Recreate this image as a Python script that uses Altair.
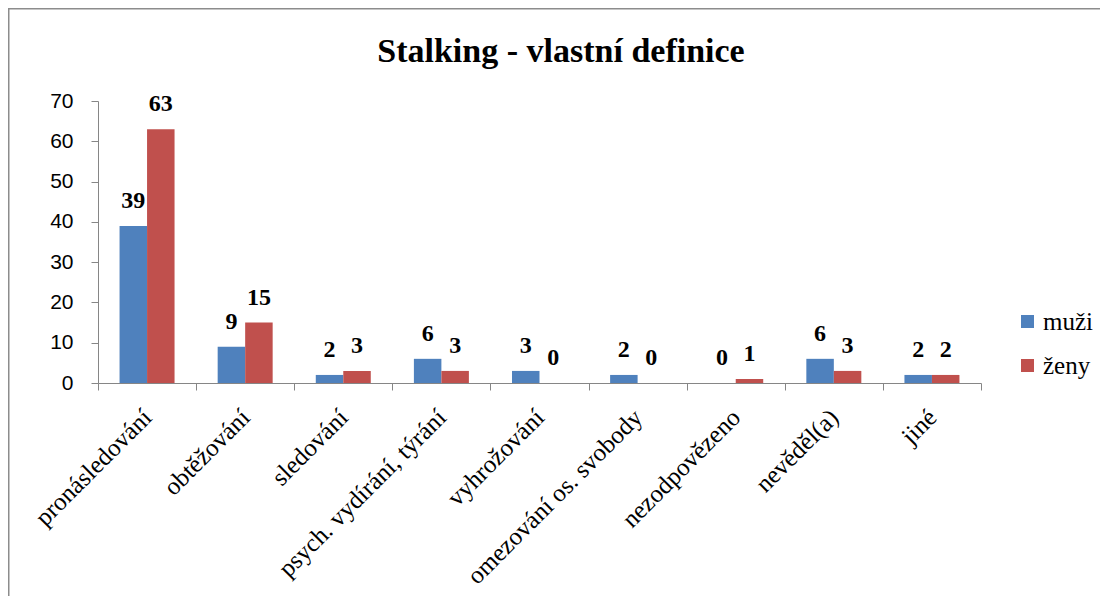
import altair as alt
import pandas as pd

title_text = "Stalking - vlastní definice"
categories = ["pronásledování", "obtěžování", "sledování", "psych. vydírání, týrání",
              "vyhrožování", "omezování os. svobody", "nezodpovězeno", "nevěděl(a)", "jiné"]
series = ["muži", "ženy"]
muzi = [39, 9, 2, 6, 3, 2, 0, 6, 2]
zeny = [63, 15, 3, 3, 0, 0, 1, 3, 2]
colors = ["#4F81BD", "#C0504D"]
y_ticks = [0, 10, 20, 30, 40, 50, 60, 70]

rows = []
for c, m, z in zip(categories, muzi, zeny):
    rows.append({"cat": c, "series": series[0], "value": m})
    rows.append({"cat": c, "series": series[1], "value": z})
df = pd.DataFrame(rows)

W, H = 883, 282
AXC = "#868686"

x_enc = alt.X("cat:N", sort=categories,
              scale=alt.Scale(paddingInner=0, paddingOuter=0),
              axis=alt.Axis(title=None, labelAngle=-45, labelFont="Liberation Serif",
                            labelFontSize=25, labelColor="black", tickBand="extent",
                            tickSize=7, tickColor=AXC, domainColor=AXC, labelPadding=23,
                            labelAlign="right", labelBaseline="middle", labelLimit=0))
xo_enc = alt.XOffset("series:N", sort=series,
                     scale=alt.Scale(paddingOuter=0.784, paddingInner=0))
y_enc = alt.Y("value:Q", scale=alt.Scale(domain=[0, 70], nice=False),
              axis=alt.Axis(title=None, values=y_ticks, grid=False, tickSize=7,
                            tickColor=AXC, domainColor=AXC, labelFont="Liberation Sans",
                            labelFontSize=21, labelColor="black", labelPadding=18))

base = alt.Chart(df)

bars = base.mark_bar().encode(
    x=x_enc, xOffset=xo_enc, y=y_enc,
    color=alt.Color("series:N", sort=series,
                    scale=alt.Scale(domain=series, range=colors),
                    legend=alt.Legend(title=None, orient="none", legendX=917, legendY=208,
                                      symbolType="square", symbolSize=169,
                                      symbolStrokeWidth=0, labelFont="Liberation Serif",
                                      labelFontSize=25, labelColor="black", labelOffset=3,
                                      rowPadding=18, padding=0))
)

labels = base.mark_text(font="Liberation Serif", fontWeight="bold", fontSize=24,
                        baseline="alphabetic", dy=-18, color="black").encode(
    x=x_enc, xOffset=xo_enc, y=y_enc, text="value:Q"
)

title = alt.Chart(alt.Data(values=[{"t": title_text}])).mark_text(
    font="Liberation Serif", fontWeight="bold", fontSize=34, color="black",
    align="center", baseline="alphabetic"
).encode(x=alt.value(463), y=alt.value(-39.5), text="t:N")

frame = alt.Chart(alt.Data(values=[{"f": 1}])).mark_rect(
    filled=False, stroke="#8C8C8C", strokeWidth=1.5
).encode(
    x=alt.value(-89.25), x2=alt.value(1100),
    y=alt.value(-92.25), y2=alt.value(499)
)

chart = alt.layer(frame, title, bars, labels).properties(
    width=W, height=H,
    autosize=alt.AutoSizeParams(type="none"),
    padding={"left": 90, "top": 93, "right": 119, "bottom": 213},
).configure_view(stroke=None)

chart.save("out.html", embed_options={"renderer": "svg", "actions": False})
